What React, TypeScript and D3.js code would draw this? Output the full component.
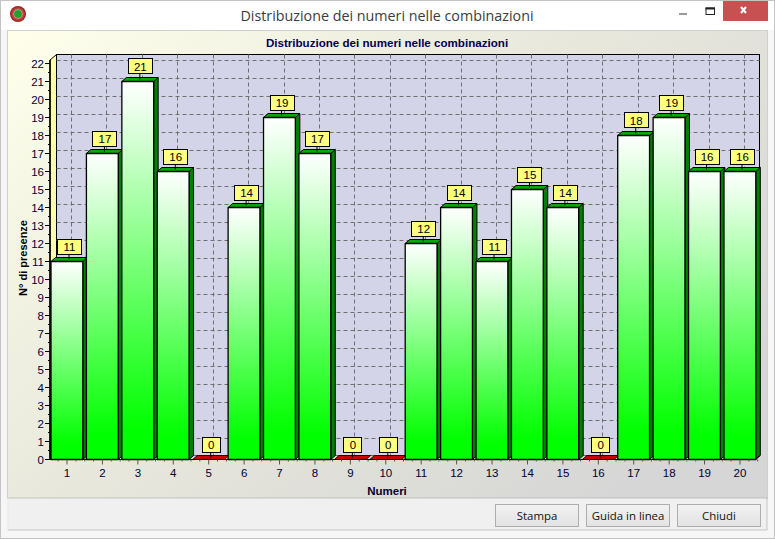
import React from "react";
import * as d3 from "d3";

const numeri = ["1","2","3","4","5","6","7","8","9","10","11","12","13","14","15","16","17","18","19","20"];
const presenze = [11,17,21,16,0,14,19,17,0,0,12,14,11,15,14,0,18,19,16,16];
const yTicks = d3.range(0, 23);
const buttons = ["Stampa", "Guida in linea", "Chiudi"];
const chartTitle = "Distribuzione dei numeri nelle combinazioni";

const W = 775, H = 539;
const y0 = 459.5, yTop = 63.5;
const dx = 4.5, dy = 4;
const wall = { l: 56.5, r: 759.5, t: 54.5, b: 455.5 };
const x = d3.scaleBand<string>().domain(numeri).range([49.3, 757.7]);
const y = d3.scaleLinear().domain([0, 22]).range([y0, yTop]);
const font = "'Liberation Sans', Arial, sans-serif";
const ui = "'Open Sans', 'Noto Sans', sans-serif";

export default function App() {
  const fw = x.bandwidth() - 3.6;
  const barX = (n: string) => (x(n) as number) + 1.7;
  return (
    <svg width={W} height={H} style={{ position: "absolute", left: 0, top: 0 }} fontFamily={font}>
      <defs>
        <linearGradient id="bar" x1="0" y1="0" x2="0" y2="1">
          <stop offset="0" stopColor="#ffffff" />
          <stop offset="0.92" stopColor="#00ff00" />
          <stop offset="1" stopColor="#00ff00" />
        </linearGradient>
        <linearGradient id="panel" x1="0" y1="0" x2="1" y2="0.7">
          <stop offset="0" stopColor="#ffffec" />
          <stop offset="0.5" stopColor="#e8e8dc" />
          <stop offset="1" stopColor="#d6d6d6" />
        </linearGradient>
        <linearGradient id="btn" x1="0" y1="0" x2="0" y2="1">
          <stop offset="0" stopColor="#f2f2f2" />
          <stop offset="1" stopColor="#e3e3e3" />
        </linearGradient>
        <radialGradient id="ico">
          <stop offset="0.45" stopColor="#ffffff" />
          <stop offset="0.6" stopColor="#d05050" />
          <stop offset="1" stopColor="#901818" />
        </radialGradient>
      </defs>

      {/* Window frame */}
      <rect x={0.5} y={0.5} width={W - 1} height={H - 1} fill="#f6f6f6" stroke="#c4c4c4" />
      <rect x={1} y={1} width={W - 2} height={29} fill="#ffffff" />
      <circle cx={18} cy={14} r={8} fill="url(#ico)" />
      <circle cx={18} cy={14} r={4} fill="#22a030" />
      <text x={387} y={21} textAnchor="middle" fontFamily={ui} fontSize={14.3} fill="#3c3c3c">{chartTitle}</text>
      <rect x={679} y={13} width={8} height={2} fill="#9a9a9a" />
      <rect x={706} y={8} width={8.5} height={6.5} fill="none" stroke="#222" strokeWidth={1} />
      <rect x={705.5} y={7.5} width={9.5} height={2} fill="#222" />
      <rect x={723} y={1} width={45} height={20} fill="#c75050" />
      <path d="M741 7l5 6M746 7l-5 6" stroke="#fff" strokeWidth={2} />

      {/* Chart panel */}
      <rect x={7.5} y={30.5} width={760} height={468} fill="url(#panel)" stroke="#cfcfcf" />
      <text x={387} y={47} textAnchor="middle" fontSize={11.6} fontWeight="bold" fill="#000050">{chartTitle}</text>

      {/* Back wall, side wall */}
      <rect x={wall.l} y={wall.t} width={wall.r - wall.l} height={wall.b - wall.t} fill="#d4d4e8" stroke="#000" />
      <polygon points={`${wall.l},${wall.t} 50,60 50,${y0} ${wall.l},${wall.b}`} fill="#ffffa8" stroke="#000" strokeWidth={1} />
      <polygon points={`${wall.l},${wall.b} 50,${y0} ${wall.r - 5},${y0} ${wall.r},${wall.b}`} fill="#d4d4e8" />

      {/* Grid */}
      {yTicks.filter(t => t > 0).map(t => (
        <line key={t} x1={wall.l} x2={wall.r} y1={Math.round(y(t) - 3.5) + 0.5} y2={Math.round(y(t) - 3.5) + 0.5} stroke="#707070" strokeDasharray="4 3" />
      ))}
      {numeri.map(n => {
        const gx = Math.round((x(n) as number) + x.bandwidth() / 2 + 4) + 0.5;
        return <line key={n} x1={gx} x2={gx} y1={wall.t} y2={wall.b} stroke="#707070" strokeDasharray="4 3" />;
      })}

      {/* Bars */}
      {numeri.map((n, i) => {
        const v = presenze[i];
        const l = barX(n), r = l + fw, t = y(v);
        const isZero = v === 0;
        return (
          <g key={n} stroke="#000" strokeWidth={isZero ? 0.8 : 1} strokeLinejoin="round">
            {!isZero && <polygon points={`${r},${t} ${r + dx},${t - dy} ${r + dx},${y0 - dy} ${r},${y0}`} fill="#008000" />}
            <polygon points={`${l},${t} ${l + dx},${t - dy} ${r + dx},${t - dy} ${r},${t}`} fill={isZero ? "#c80000" : "#00aa00"} />
            {!isZero && <rect x={l} y={t} width={fw} height={y0 - t} fill="url(#bar)" strokeWidth={1.3} />}
          </g>
        );
      })}

      {/* Axes */}
      <line x1={50} x2={50} y1={60} y2={y0} stroke="#000" strokeWidth={1.5} />
      <line x1={50} x2={wall.r - 4} y1={y0} y2={y0} stroke="#000" strokeWidth={1.2} />
      <line x1={wall.r} x2={wall.r - 4} y1={wall.b} y2={y0} stroke="#000" />
      {yTicks.map(t => (
        <g key={t}>
          <line x1={45} x2={50} y1={y(t)} y2={y(t)} stroke="#000" />
          {t < 22 && <line x1={48} x2={50} y1={y(t + 0.5)} y2={y(t + 0.5)} stroke="#000" />}
          <text x={44} y={y(t) + 4} textAnchor="end" fontSize={11.5} fill="#000030">{t}</text>
        </g>
      ))}
      {numeri.map(n => {
        const c = (x(n) as number) + x.bandwidth() / 2;
        return (
          <g key={n}>
            <line x1={c} x2={c} y1={y0} y2={y0 + 5} stroke="#555" />
            {[-0.25, 0.25, 0.5].map(f => (
              <line key={f} x1={c + f * x.bandwidth()} x2={c + f * x.bandwidth()} y1={y0} y2={y0 + 2} stroke="#555" />
            ))}
            <text x={c} y={y0 + 17} textAnchor="middle" fontSize={11.5} fill="#000030">{n}</text>
          </g>
        );
      })}
      <text x={387} y={495} textAnchor="middle" fontSize={11.5} fontWeight="bold" fill="#000030">Numeri</text>
      <text transform="translate(27,258) rotate(-90)" textAnchor="middle" fontSize={11} fontWeight="bold" fill="#000">N° di presenze</text>

      {/* Value labels */}
      {numeri.map((n, i) => {
        const v = presenze[i];
        const c = (x(n) as number) + x.bandwidth() / 2 + 2;
        const t = y(v);
        const w = v >= 10 ? 24 : 18;
        const boxB = t - 8;
        return (
          <g key={n}>
            <line x1={c} x2={c} y1={boxB} y2={t - 2} stroke="#000" />
            <rect x={Math.round(c - w / 2) + 0.5} y={Math.round(boxB - 15) + 0.5} width={w} height={15} fill="#ffff80" stroke="#000" />
            <text x={c + 0.5} y={boxB - 3} textAnchor="middle" fontSize={11.5} fill="#000">{v}</text>
          </g>
        );
      })}

      {/* Button bar */}
      <rect x={8} y={498} width={759} height={32} fill="#f0f0f0" stroke="#a8a8a8" strokeWidth={0.6} />
      <line x1={8} x2={8} y1={498} y2={530} stroke="#ffffff" />
      {buttons.map((b, i) => {
        const bx = 495.5 + i * 91;
        return (
          <g key={b}>
            <rect x={bx} y={504.5} width={83} height={22} fill="url(#btn)" stroke="#adadad" />
            <text x={bx + 41.5} y={520} textAnchor="middle" fontFamily={ui} fontSize={11.4} fill="#111">{b}</text>
          </g>
        );
      })}
    </svg>
  );
}
